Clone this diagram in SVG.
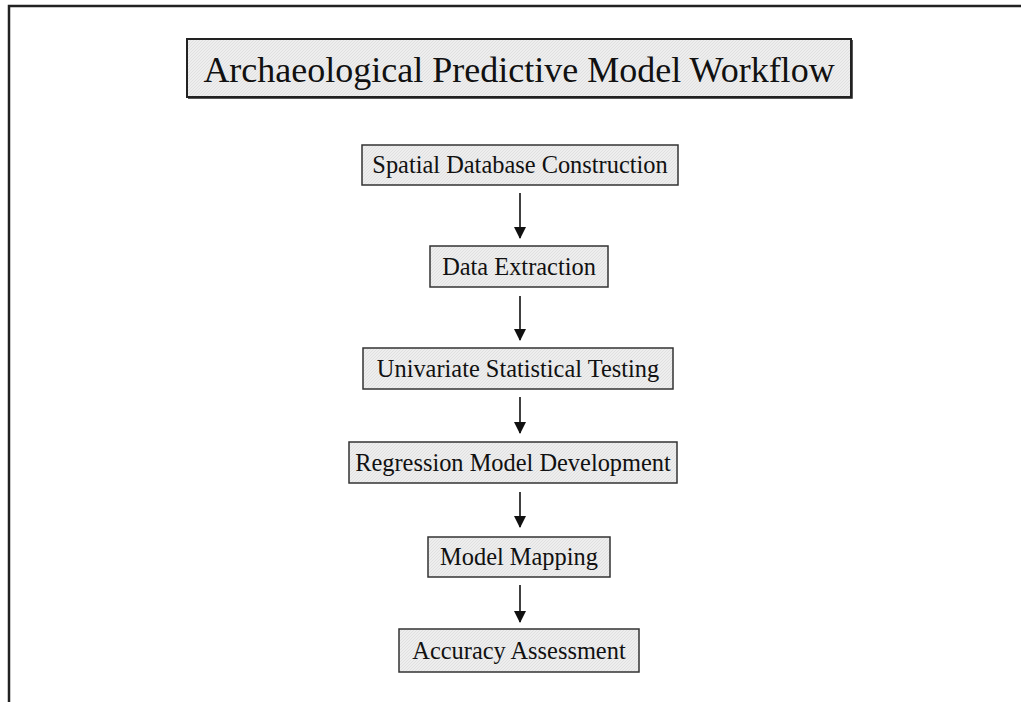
<svg xmlns="http://www.w3.org/2000/svg" width="1021" height="702" viewBox="0 0 1021 702">
<defs>
<style>
.box{fill:url(#hatch);stroke:#333;stroke-width:1.5}
.lbl{font-family:"Liberation Serif","Times New Roman",serif;font-size:24.4px;fill:#111;text-anchor:middle}
.ttl{font-family:"Liberation Serif","Times New Roman",serif;font-size:36px;fill:#111;text-anchor:middle}
.conn{stroke:#111;stroke-width:1.6;fill:none}
</style>
<pattern id="hatch" width="3" height="3" patternUnits="userSpaceOnUse">
<rect width="3" height="3" fill="#eeeeee"/>
<path d="M0,3 L3,0" stroke="#dcdcdc" stroke-width="0.8"/>
</pattern>
<marker id="ah" viewBox="0 0 12 12" refX="11" refY="6" markerWidth="12" markerHeight="12" markerUnits="userSpaceOnUse" orient="auto">
<path d="M0,0 L12,6 L0,12 Z" fill="#111"/>
</marker>
</defs>
<rect width="1021" height="702" fill="#fff"/>
<g id="frame">
<path d="M9,702 V6 H1021" fill="none" stroke="#222" stroke-width="2.5"/>
</g>
<g id="title">
<rect x="187" y="39" width="664" height="58" fill="url(#hatch)" stroke="#222" stroke-width="2"/>
<path d="M188,98 H852 V40" fill="none" stroke="#222" stroke-width="1.5"/>
<text class="ttl" x="519" y="82">Archaeological Predictive Model Workflow</text>
</g>
<g id="n1"><rect class="box" x="362" y="145" width="316" height="40"/><text class="lbl" x="520" y="173">Spatial Database Construction</text></g>
<g id="n2"><rect class="box" x="430" y="246" width="178" height="41"/><text class="lbl" x="519" y="275">Data Extraction</text></g>
<g id="n3"><rect class="box" x="363" y="348" width="310" height="41"/><text class="lbl" x="518" y="377">Univariate Statistical Testing</text></g>
<g id="n4"><rect class="box" x="349" y="442" width="328" height="41"/><text class="lbl" x="513" y="471">Regression Model Development</text></g>
<g id="n5"><rect class="box" x="428" y="537" width="182" height="40"/><text class="lbl" x="519" y="565">Model Mapping</text></g>
<g id="n6"><rect class="box" x="399" y="629" width="240" height="43"/><text class="lbl" x="519" y="659">Accuracy Assessment</text></g>
<g id="connectors">
<line class="conn" x1="520" y1="193" x2="520" y2="238" marker-end="url(#ah)"/>
<line class="conn" x1="520" y1="296" x2="520" y2="340" marker-end="url(#ah)"/>
<line class="conn" x1="520" y1="397" x2="520" y2="433" marker-end="url(#ah)"/>
<line class="conn" x1="520" y1="492" x2="520" y2="527" marker-end="url(#ah)"/>
<line class="conn" x1="520" y1="585" x2="520" y2="622" marker-end="url(#ah)"/>
</g>
</svg>
